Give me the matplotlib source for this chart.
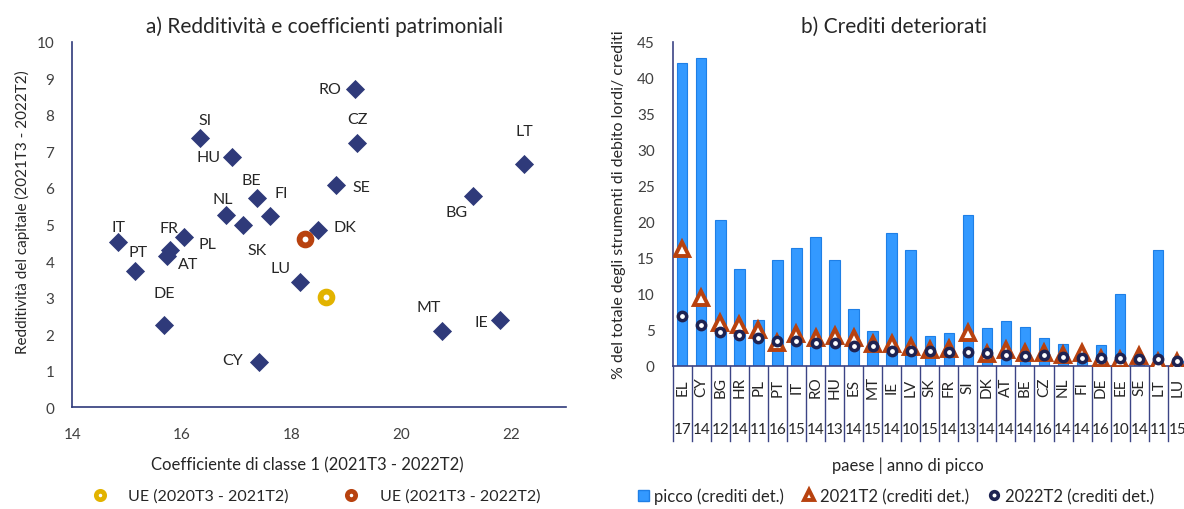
import matplotlib
matplotlib.use("Agg")
import matplotlib.pyplot as plt
from matplotlib.lines import Line2D
from matplotlib.patches import Patch
import numpy as np

plt.rcParams['font.family'] = ['Lato', 'DejaVu Sans']

# ---------------- data: panel a ----------------
countries_a = ["RO", "SI", "CZ", "HU", "LT", "SE", "BG", "BE", "FI", "NL", "SK", "DK",
               "IT", "PL", "FR", "AT", "PT", "LU", "DE", "IE", "MT", "CY"]
cet1 = [19.15, 16.32, 19.19, 16.91, 22.24, 18.80, 21.30, 17.37, 17.60, 16.80, 17.11, 18.48,
        14.84, 16.04, 15.79, 15.72, 15.15, 18.15, 15.67, 21.79, 20.74, 17.40]
roe = [8.71, 7.37, 7.23, 6.84, 6.66, 6.07, 5.79, 5.72, 5.22, 5.25, 5.00, 4.84,
       4.52, 4.66, 4.29, 4.15, 3.72, 3.42, 2.25, 2.39, 2.10, 1.23]
eu_labels = ["UE (2020T3 - 2021T2)", "UE (2021T3 - 2022T2)"]
eu_cet1 = [18.63, 18.24]
eu_roe = [3.03, 4.61]

# label offsets in pixels (dx right, dy up)
lab_off = {"RO": (-25, 0), "SI": (5, 18), "CZ": (0, 24), "HU": (-23, 0), "LT": (0, 33),
           "SE": (26, -2), "BG": (-16, -16), "BE": (-6, 18), "FI": (11, 23), "NL": (-3, 16),
           "SK": (14, -26), "DK": (27, 3), "IT": (0, 15), "PL": (23, -7), "FR": (-1, 22),
           "AT": (21, -8), "PT": (3, 19), "LU": (-19, 14), "DE": (0, 32), "IE": (-18, -2),
           "MT": (-13, 24), "CY": (-26, 2)}

# ---------------- data: panel b ----------------
countries_b = ["EL", "CY", "BG", "HR", "PL", "PT", "IT", "RO", "HU", "ES", "MT", "IE", "LV", "SK",
               "FR", "SI", "DK", "AT", "BE", "CZ", "NL", "FI", "DE", "EE", "SE", "LT", "LU"]
peak_year = ["17", "14", "12", "14", "11", "16", "15", "14", "13", "14", "15", "14", "10", "15",
             "14", "13", "14", "14", "14", "16", "14", "14", "16", "10", "14", "11", "15"]
npl_peak = [42.1, 42.8, 20.2, 13.4, 6.4, 14.7, 16.3, 17.9, 14.7, 7.9, 4.8, 18.5, 16.1, 4.1,
            4.6, 21.0, 5.2, 6.25, 5.4, 3.9, 3.05, 1.6, 2.9, 10.0, 1.2, 16.1, 0.6]
npl_2021 = [16.2, 9.35, 5.9, 5.65, 4.95, 3.15, 4.4, 3.9, 4.15, 3.8, 3.0, 3.0, 2.55, 2.2,
            2.3, 4.55, 1.6, 2.2, 1.75, 1.75, 1.5, 1.75, 0.9, 0.85, 1.3, 0.45, 0.45]
npl_2022 = [6.85, 5.6, 4.7, 4.3, 3.8, 3.4, 3.45, 3.1, 3.1, 2.8, 2.7, 2.0, 2.0, 2.0,
            1.85, 1.85, 1.75, 1.5, 1.4, 1.5, 1.25, 1.05, 1.05, 1.05, 0.9, 0.9, 0.7]
legend_b = ["picco (crediti det.)", "2021T2 (crediti det.)", "2022T2 (crediti det.)"]

# ---------------- styles ----------------
NAVY = "#2F3A7A"
YELLOW = "#E2B300"
RED = "#B8420F"
BLUE = "#3399FF"
BLUE_EDGE = "#1E7FE6"
DARKC = "#1E2352"
AXC = "#3C4485"
TXT = "#262626"
TICK = "#404040"

W, H = 1184, 510
fig = plt.figure(figsize=(W / 100, H / 100), dpi=100)

def rect(l, r, t, b):
    return [l / W, 1 - b / H, (r - l) / W, (b - t) / H]

# ---------------- panel a ----------------
L1, R1, T1, B1 = 72.3, 566, 42.7, 408.3
ax1 = fig.add_axes(rect(L1, R1, T1, B1))
ax1.scatter(cet1, roe, marker="D", s=95, color=NAVY, zorder=3, linewidths=0)
for c, x, y in zip(countries_a, cet1, roe):
    dx, dy = lab_off[c]
    ax1.annotate(c, (x, y), xytext=(dx, dy), textcoords="offset pixels",
                 ha="center", va="center", fontsize=11.5, color=TXT, zorder=4)
ax1.plot(eu_cet1[0], eu_roe[0], "o", ms=8.5, mfc="white", mec=YELLOW, mew=4.2, zorder=5)
ax1.plot(eu_cet1[1], eu_roe[1], "o", ms=8.5, mfc="white", mec=RED, mew=4.2, zorder=5)
ax1.set_xlim(14, 23)
ax1.set_ylim(0, 10)
ax1.set_xticks([14, 16, 18, 20, 22])
ax1.set_yticks(range(0, 11))
for s in ["top", "right"]:
    ax1.spines[s].set_visible(False)
for s in ["left", "bottom"]:
    ax1.spines[s].set_color(NAVY)
    ax1.spines[s].set_linewidth(1.2)
ax1.tick_params(length=0, labelsize=11, labelcolor=TICK)
ax1.tick_params(axis="y", pad=13)
ax1.tick_params(axis="x", pad=14)
ax1.set_title("a) Redditività e coefficienti patrimoniali", fontsize=15, color=TXT, pad=7,
              x=(325 - L1) / (R1 - L1))
ax1.set_xlabel("Coefficiente di classe 1 (2021T3 - 2022T2)", fontsize=12, color=TXT)
ax1.xaxis.set_label_coords((307 - L1) / (R1 - L1), -(457 - B1) / (B1 - T1))
ax1.set_ylabel("Redditività del capitale (2021T3 - 2022T2)", fontsize=11, color=TXT)
ax1.yaxis.set_label_coords((30 - L1) / (R1 - L1), (B1 - 212) / (B1 - T1))

h_a = [Line2D([], [], marker="o", ls="", ms=6, mfc="white", mec=YELLOW, mew=3.4),
       Line2D([], [], marker="o", ls="", ms=6, mfc="white", mec=RED, mew=3.4)]
fig.legend(h_a, eu_labels, loc="center", bbox_to_anchor=(312 / W, 1 - 497 / H), ncol=2,
           frameon=False, fontsize=11.5, columnspacing=2.9, handletextpad=0.8, labelcolor=TXT)

# ---------------- panel b ----------------
L2, R2, T2, B2 = 672.7, 1186.8, 42.7, 366.7
ax2 = fig.add_axes(rect(L2, R2, T2, B2))
xb = np.arange(len(countries_b))
ax2.bar(xb, npl_peak, width=0.55, color=BLUE, edgecolor=BLUE_EDGE, linewidth=0.8, zorder=2)
ax2.plot(xb, npl_2021, "^", ls="", ms=9.5, mfc="white", mec=RED, mew=2.8, zorder=3)
ax2.plot(xb, npl_2022, "o", ls="", ms=6, mfc="white", mec=DARKC, mew=2.5, zorder=4)
ax2.set_xlim(-0.5, len(countries_b) - 0.5)
ax2.set_ylim(0, 45)
ax2.set_yticks(range(0, 46, 5))
ax2.set_xticks([])
for s in ["top", "right"]:
    ax2.spines[s].set_visible(False)
for s in ["left", "bottom"]:
    ax2.spines[s].set_color(AXC)
    ax2.spines[s].set_linewidth(1.2)
ax2.tick_params(length=0, labelsize=11, labelcolor=TICK)
ax2.tick_params(axis="y", pad=13)
ax2.set_title("b) Crediti deteriorati", fontsize=15, color=TXT, pad=7,
              x=(894 - L2) / (R2 - L2))
ax2.set_ylabel("% del totale degli strumenti di debito lordi/ crediti", fontsize=11.5,
               color=TXT, labelpad=8)

axh = B2 - T2
tr = ax2.get_xaxis_transform()
for i, (c, yv) in enumerate(zip(countries_b, peak_year)):
    ax2.text(i, -20.8 / axh, c, rotation=90, ha="center", va="center", fontsize=11,
             color=TXT, transform=tr, clip_on=False)
    ax2.text(i, -63.3 / axh, yv, ha="center", va="center", fontsize=11,
             color=TXT, transform=tr, clip_on=False)
for i in range(len(countries_b) + 1):
    ax2.add_line(Line2D([i - 0.5, i - 0.5], [0, -75 / axh], color=AXC, lw=1,
                        transform=tr, clip_on=False))
ax2.text((908 - L2) / (R2 - L2), -(466 - B2) / axh, "paese | anno di picco", ha="center",
         va="center", fontsize=12, color=TXT, transform=ax2.transAxes)

h_b = [Patch(facecolor=BLUE, edgecolor=BLUE_EDGE),
       Line2D([], [], marker="^", ls="", ms=6.5, mfc="white", mec=RED, mew=2.8),
       Line2D([], [], marker="o", ls="", ms=5.5, mfc="white", mec=DARKC, mew=2.6)]
fig.legend(h_b, legend_b, loc="center", bbox_to_anchor=(896 / W, 1 - 497 / H), ncol=3,
           frameon=False, fontsize=12, columnspacing=1.15, handletextpad=0.3,
           handlelength=0.7, handleheight=0.7, labelcolor=TXT)

fig.savefig("out.png", dpi=100)
